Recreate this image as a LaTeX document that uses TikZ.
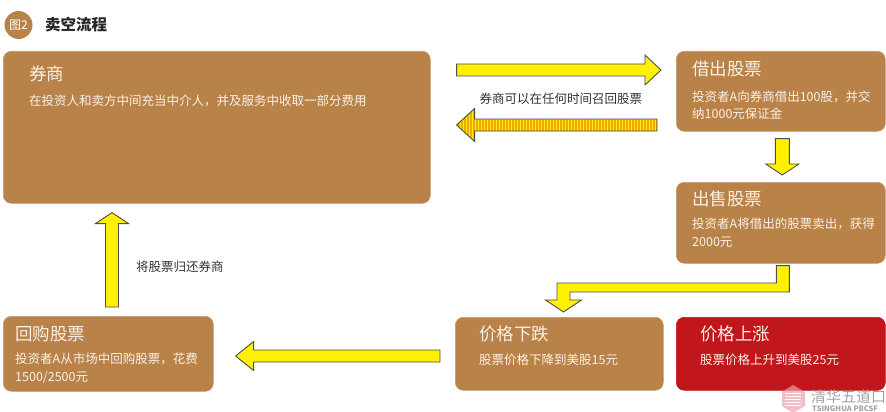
\documentclass[tikz,border=0pt]{standalone}
\usepackage{fontspec}
\setmainfont{Noto Sans CJK SC}
\usetikzlibrary{calc,positioning,patterns.meta}
\definecolor{boxbrown}{HTML}{B98249}
\definecolor{boxred}{HTML}{C1161C}
\definecolor{arrowyellow}{HTML}{FFF000}
\definecolor{arrowline}{HTML}{4D4D4D}
\definecolor{stripe}{HTML}{F2A900}
\definecolor{boxtext}{HTML}{FBF1E6}
\definecolor{labeltext}{HTML}{333333}
\definecolor{markgray}{HTML}{A3A3A3}
\definecolor{markpink}{HTML}{E9A3AC}
\tikzset{
  box/.style={draw=boxbrown!80!white, fill=boxbrown, line width=0.6pt, rounded corners=8pt,
    anchor=north west, inner sep=0pt},
  boxtitle/.style={anchor=base west, inner sep=0pt, text=boxtext, font=\fontsize{17.5}{20}\selectfont},
  boxbody/.style={anchor=base west, inner sep=0pt, text=boxtext, align=left,
    font=\fontsize{12.5}{17.5}\selectfont},
  arrowlabel/.style={inner sep=0pt, text=labeltext, font=\fontsize{12.5}{15}\selectfont},
  bshaft/.store in=\bshaft, bhead/.store in=\bhead, blen/.store in=\blen,
  bshaft=6pt, bhead=15pt, blen=16pt,
  yellowshape/.style={draw=arrowline, fill=arrowyellow, line width=0.9pt, line join=miter},
  blockarrow/.style={yellowshape, to path={
    ($(\tikztotarget)!\blen!(\tikztostart)$) coordinate (hc)
    ($(\tikztostart)!\bshaft!90:(\tikztotarget)$) -- ($(hc)!\bshaft!90:(\tikztotarget)$)
    -- ($(hc)!\bhead!90:(\tikztotarget)$) -- (\tikztotarget)
    -- ($(hc)!\bhead!-90:(\tikztotarget)$) -- ($(hc)!\bshaft!-90:(\tikztotarget)$)
    -- ($(\tikztostart)!\bshaft!-90:(\tikztotarget)$) -- cycle}},
}
\begin{document}
\begin{tikzpicture}[x=1pt,y=1pt]
\useasboundingbox (0,0) rectangle (886,-412);
% heading
\fill[boxbrown] (18.5,-25) circle (14);
\node[inner sep=0pt, text=white, font=\fontsize{12}{14}\selectfont] (badge) at (18.5,-25) {图2};
\node[anchor=base west, inner sep=0pt, text=black!85, font=\fontsize{15.5}{18}\bfseries] (heading) at (45,-31) {卖空流程};

% boxes
\node[box, minimum width=427, minimum height=152] (broker) at (3,-51) {};
\node[box, minimum width=209, minimum height=80] (lend) at (676,-51) {};
\node[box, minimum width=209, minimum height=81] (sell) at (676,-182) {};
\node[box, minimum width=208, minimum height=73] (fall) at (455,-317) {};
\node[box, draw=boxred, fill=boxred, minimum width=209, minimum height=73] (rise) at (676,-317) {};
\node[box, minimum width=210, minimum height=75] (buyback) at (3,-316) {};

% box texts (base of a two-line text is its last line)
\node[boxtitle] (brokerT) at ([shift={(26,-30)}]broker.north west) {券商};
\node[boxbody] (brokerB) at ([shift={(26,-54)}]broker.north west) {在投资人和卖方中间充当中介人，并及服务中收取一部分费用};
\node[boxtitle] (lendT) at ([shift={(16,-25)}]lend.north west) {借出股票};
\node[boxbody] (lendB) at ([shift={(16,-67.5)}]lend.north west) {投资者A向券商借出100股，并交\\纳1000元保证金};
\node[boxtitle] (sellT) at ([shift={(16,-23)}]sell.north west) {出售股票};
\node[boxbody] (sellB) at ([shift={(16,-64)}]sell.north west) {投资者A将借出的股票卖出，获得\\2000元};
\node[boxtitle] (fallT) at ([shift={(24,-23)}]fall.north west) {价格下跌};
\node[boxbody] (fallB) at ([shift={(24,-47)}]fall.north west) {股票价格下降到美股15元};
\node[boxtitle] (riseT) at ([shift={(24,-23)}]rise.north west) {价格上涨};
\node[boxbody] (riseB) at ([shift={(24,-47)}]rise.north west) {股票价格上升到美股25元};
\node[boxtitle] (buybackT) at ([shift={(12,-24)}]buyback.north west) {回购股票};
\node[boxbody] (buybackB) at ([shift={(12,-65)}]buyback.north west) {投资者A从市场中回购股票，花费\\1500/2500元};

% arrow ends
\coordinate (lendFrom) at ([shift={(26,-19)}]broker.north east);
\coordinate (lendTo) at ([shift={(-15,-19)}]lend.north west);
\coordinate (recallFrom) at ([shift={(-19,-74)}]lend.north west);
\coordinate (recallTo) at ([shift={(26,-74)}]broker.north east);
\coordinate (lendOut) at ([shift={(1.5,-7)}]lend.south);
\coordinate (sellIn) at ([shift={(1.5,7)}]sell.north);
\coordinate (dropTop) at ([shift={(2,-2)}]sell.south);
\coordinate (dropTip) at ([shift={(108.5,5)}]fall.north west);
\coordinate (fallOut) at ([shift={(-15,-39)}]fall.north west);
\coordinate (buybackIn) at ([shift={(22,-40)}]buyback.north east);
\coordinate (buybackOut) at ([shift={(109,9)}]buyback.north west);
\coordinate (brokerIn) at ([shift={(109,-9)}]broker.south west);

% arrows
\draw[blockarrow] (lendFrom) to (lendTo);
\draw[blockarrow, bhead=16.5pt, blen=18pt, preaction={fill=arrowyellow},
  pattern={Lines[angle=90,distance=3pt,line width=1.4pt]}, pattern color=stripe] (recallFrom) to (recallTo);
\draw[blockarrow, bshaft=7pt, bhead=16.5pt, blen=11pt] (lendOut) to (sellIn);
\draw[yellowshape] let \p1=(dropTop), \p2=(dropTip) in
  (\x1-6.5,\y1) -- (\x1+6.5,\y1) -- (\x1+6.5,\y2+20) -- (\x2+6.5,\y2+20) -- (\x2+6.5,\y2+12)
  -- (\x2+18,\y2+12) -- (\p2) -- (\x2-18,\y2+12) -- (\x2-6.5,\y2+12) -- (\x2-6.5,\y2+29)
  -- (\x1-6.5,\y2+29) -- cycle;
\draw[blockarrow, bhead=14.5pt, blen=18pt] (fallOut) to (buybackIn);
\draw[blockarrow, bshaft=6.5pt, bhead=16.5pt, blen=11pt] (buybackOut) to (brokerIn);

% arrow labels
\node[arrowlabel, anchor=base] (recallText) at ($(recallFrom)!0.5!(recallTo)+(4,22)$) {券商可以在任何时间召回股票};
\node[arrowlabel, anchor=base west] (returnText) at ([shift={(24,-59)}]brokerIn) {将股票归还券商};

% watermark
\fill[markpink, opacity=0.7] (793,-385) -- (805,-392) -- (805,-406) -- (793,-413) -- (782,-406) -- (782,-392) -- cycle;
\foreach \k in {0,...,4}
  \draw[white, line width=0.8pt] (785,-393-3*\k) -- (801,-393-3*\k);
\node[anchor=base west, inner sep=0pt, text=markgray, font=\fontsize{15}{17}\selectfont] (markCN) at (811,-402) {清华五道口};
\node[anchor=base west, inner sep=0pt, text=markgray, font=\fontsize{7.5}{8}\bfseries] (markEN) at (812,-411) {TSINGHUA PBCSF};
\end{tikzpicture}
\end{document}
